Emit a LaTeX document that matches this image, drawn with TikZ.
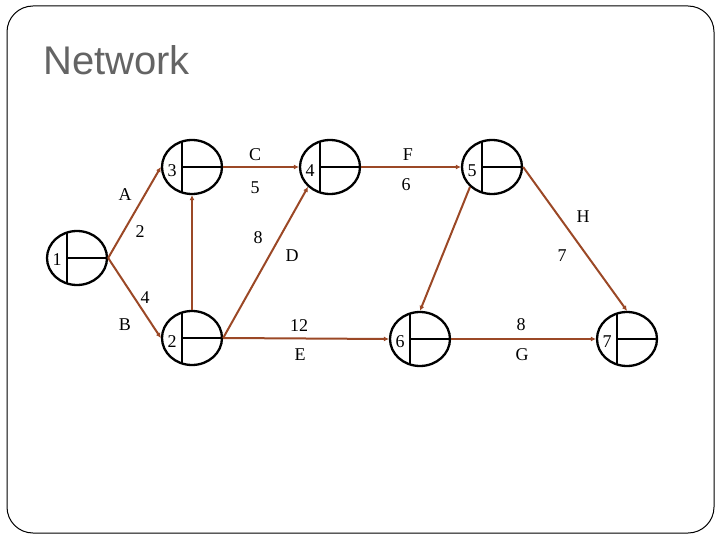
\documentclass[tikz,border=0pt]{standalone}
\usepackage{fontspec}
\setmainfont{Liberation Serif}
\newfontfamily\titlefont{Liberation Sans}
\usetikzlibrary{shapes.geometric,arrows.meta}
\definecolor{edgebrown}{RGB}{155,72,38}
\definecolor{titlegray}{RGB}{100,100,100}
\tikzset{
  evt/.style={ellipse,draw=black,line width=2.3pt,minimum width=60pt,minimum height=54pt,inner sep=0pt},
  act/.style={draw=edgebrown,line width=2pt,-{Latex[length=5pt,width=5pt]}},
  lbl/.style={font=\fontsize{18}{20}\selectfont,inner sep=0pt},
  num/.style={font=\fontsize{18}{20}\selectfont,inner sep=0pt}
}
\begin{document}
\begin{tikzpicture}[x=1pt,y=-1pt]
\useasboundingbox (0,0) rectangle (720,540);
\draw[line width=1pt,rounded corners=26pt] (7,6) rectangle (714,533);
\node[anchor=base west,inner sep=0pt,text=titlegray,font=\titlefont\fontsize{40}{46}\selectfont] (title) at (43,75) {Network};
% events
\foreach \n/\x/\y in {e1/77/258, e2/192/338, e3/192/167, e4/330/167, e5/492/167, e6/420/339, e7/627/339}{
  \node[evt] (\n) at (\x,\y) {};
  \draw[line width=2.3pt] (\x-10,\y-25.5) -- (\x-10,\y+25.5);
  \draw[line width=2.3pt] (\x-10,\y) -- (\n.east);
}
\node[num] (l1) at (57,260) {1};
\node[num] (l2) at (172,342) {2};
\node[num] (l3) at (172,171) {3};
\node[num] (l4) at (310,171) {4};
\node[num] (l5) at (472,171) {5};
\node[num] (l6) at (400,342) {6};
\node[num] (l7) at (607,342) {7};
% activities
\draw[act] (e1.east) -- (e3.west);
\draw[act] (e1.east) -- (e2.west);
\draw[act] (e2.north) -- (e3.south);
\draw[act] (e3.east) -- (e4.west);
\draw[act] (e2.east) -- (e4.south west);
\draw[act] (e2.east) -- (e6.west);
\draw[act] (e4.east) -- (e5.west);
\draw[act] (e5.south west) -- (e6.north);
\draw[act] (e5.east) -- (e7.north);
\draw[act] (e6.east) -- (e7.west);
% labels
\node[lbl] (tA) at (125,195) {A};
\node[lbl] (wA) at (140,232) {2};
\node[lbl] (wB) at (145,298) {4};
\node[lbl] (tB) at (125,325) {B};
\node[lbl] (tC) at (255,155) {C};
\node[lbl] (wC) at (255,188) {5};
\node[lbl] (wD) at (258,238) {8};
\node[lbl] (tD) at (292,256) {D};
\node[lbl] (tF) at (408,155) {F};
\node[lbl] (wF) at (406,185) {6};
\node[lbl] (tH) at (583,217) {H};
\node[lbl] (wH) at (562,256) {7};
\node[lbl] (wE) at (299,326) {12};
\node[lbl] (tE) at (300,355) {E};
\node[lbl] (wG) at (521,325) {8};
\node[lbl] (tG) at (522,355) {G};
\end{tikzpicture}
\end{document}
